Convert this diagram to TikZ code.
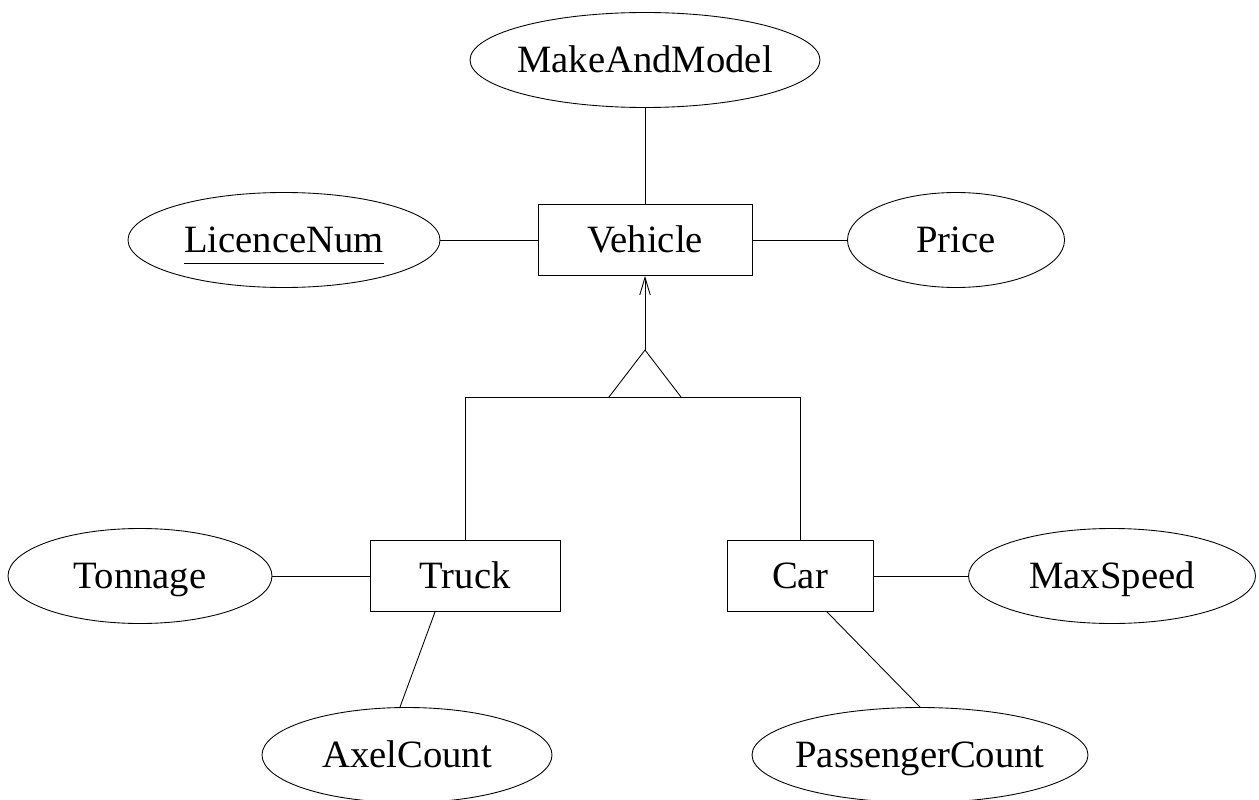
\documentclass[tikz,border=0pt]{standalone}
\usepackage{fontspec}
\setmainfont{Liberation Serif}
\usetikzlibrary{shapes}
\usetikzlibrary{arrows.meta}
\tikzset{
    entity/.style = {rectangle, draw=black, line width=0.5pt, inner sep=0pt, minimum height=1.42cm, text height=0.8em, text depth=0.14em},
    attrib/.style = {ellipse, draw=black, line width=0.5pt, inner xsep=-0.3cm, inner ysep=0pt, minimum height=1.9cm, text height=0.8em, text depth=0.14em},
    edgen/.style = {draw=black, line width=0.5pt},
    edgea/.style = {-{Straight Barb[length=10pt,width=6pt]}, draw=black, line width=0.5pt},
    every picture/.style={font issue=\fontsize{22}{26}},
    font issue/.style={execute at begin picture={#1\selectfont}
  }
}
\begin{document}
\begin{tikzpicture}[scale=1.00,transform shape]
\useasboundingbox (0,0) rectangle (25.18,15.98);
%
\node[attrib, minimum width=7.0cm] at (12.9, 14.78) (make) {MakeAndModel};
\node[entity, minimum width=4.28cm] at (12.9, 11.18) (vehicle) {Vehicle};
\node[attrib, minimum width=6.24cm] at (5.68, 11.18) (licence) {\underline{LicenceNum\rule[-0.2em]{0pt}{0pt}}};
\node[attrib, minimum width=4.34cm] at (19.12, 11.18) (price) {Price};
\node[entity, minimum width=3.8cm] at (9.3, 4.46) (truck) {Truck};
\node[entity, minimum width=2.92cm] at (16.0, 4.46) (car) {Car};
\node[attrib, minimum width=5.28cm] at (2.8, 4.46) (tonnage) {Tonnage};
\node[attrib, minimum width=5.74cm] at (22.24, 4.46) (maxspeed) {MaxSpeed};
\node[attrib, minimum width=5.8cm] at (8.14, 0.88) (axel) {AxelCount};
\node[attrib, minimum width=6.72cm] at (18.4, 0.88) (passenger) {PassengerCount};
%
\coordinate (apex) at (12.9, 8.98);
\coordinate (bl) at (12.18, 8.04);
\coordinate (br) at (13.62, 8.04);
\coordinate (tl) at (9.3, 8.04);
\coordinate (cr) at (16.0, 8.04);
%
\draw[edgen] (make) -- (vehicle);
\draw[edgen] (licence) -- (vehicle);
\draw[edgen] (vehicle) -- (price);
\draw[edgea] (apex) -- (vehicle);
\draw[edgen] (bl) -- (apex) -- (br);
\draw[edgen] (truck.north) -- (tl) -- (cr) -- (car.north);
\draw[edgen] (tonnage) -- (truck);
\draw[edgen] (car) -- (maxspeed);
\draw[edgen] ([xshift=-0.6cm]truck.south) -- ([xshift=-0.14cm]axel.north);
\draw[edgen] ([xshift=0.54cm]car.south) -- (passenger.north);

\end{tikzpicture}
\end{document}
